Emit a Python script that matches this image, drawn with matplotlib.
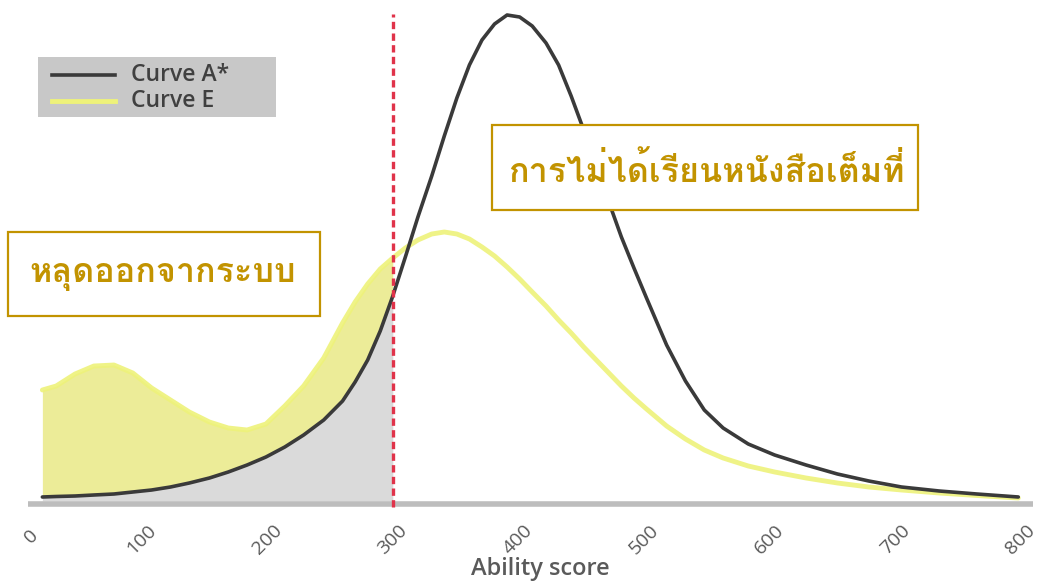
import matplotlib
matplotlib.use("Agg")
import matplotlib.pyplot as plt
from matplotlib import font_manager
from matplotlib.patches import Rectangle
from matplotlib.lines import Line2D
from matplotlib.transforms import ScaledTranslation

# ---------------- data ----------------
score = [21, 32, 47, 62, 78, 93, 108, 123, 138, 154, 169, 184, 199, 214, 229, 245,
         260, 270, 280, 290, 300, 310, 320, 331, 341, 351, 361, 371, 381, 391, 401,
         411, 422, 432, 442, 452, 462, 472, 482, 492, 502, 518, 533, 548, 563, 583,
         604, 629, 654, 679, 705, 735, 765, 798]
curve_a = [1, 1.5, 2, 3, 4, 6, 8, 11, 15, 20, 26, 33, 41, 51, 63, 78,
           97, 116, 138, 167, 202, 241, 281, 322, 362, 400, 433, 458, 474, 483, 481,
           472, 455, 433, 402, 368, 333, 296, 261, 230, 200, 153, 117, 88, 70, 54,
           43, 33, 24, 17, 11, 7, 4, 1]
curve_e = [108, 112, 124, 132, 133, 125, 110, 98, 86, 76, 70, 68, 74, 92, 112, 140,
           175, 196, 214, 229, 240, 250, 258, 264, 266, 264, 259, 251, 242, 231, 219,
           206, 192, 178, 165, 151, 138, 125, 112, 100, 89, 72, 59, 48, 40, 32,
           26, 20, 15, 11, 8, 5, 2.5, 0]
cutoff = 300
tick_values = [0, 100, 200, 300, 400, 500, 600, 700, 800]
series_names = ["Curve A*", "Curve E"]
label_dropout = "หลุดออกจากระบบ"
label_notfull = "การไม่ได้เรียนหนังสือเต็มที่"
x_title = "Ability score"

# ---------------- fonts ----------------
names = {f.name for f in font_manager.fontManager.ttflist}
thai_family = [n for n in ("Loma", "Noto Sans Thai") if n in names] + ["DejaVu Sans"]

W, H = 1041, 581
fig = plt.figure(figsize=(W / 100, H / 100), dpi=100)
ax = fig.add_axes([0, 71 / H, 1, 510 / H])
x0px, kpx = 16.0, 1.256
ax.set_xlim(-x0px / kpx, (W - x0px) / kpx)
ax.set_ylim(-12, 498)
for s in ax.spines.values():
    s.set_visible(False)
ax.set_yticks([])

# fills left of the cut-off
left_x = [x for x in score if x <= cutoff]
n = len(left_x)
ax.fill_between(left_x, -3, curve_a[:n], color="#dadada", lw=0, zorder=1)
ax.fill_between(left_x, curve_a[:n], curve_e[:n], color="#ecec98", lw=0, zorder=1)

# baseline
ax.plot([(28 - x0px) / kpx, (1033 - x0px) / kpx], [-6, -6], color="#bdbdbd",
        lw=4, solid_capstyle="butt", zorder=2)

# curves
ax.plot(score, curve_e, color="#eef27a", lw=3.5, alpha=0.9, zorder=3,
        solid_capstyle="round", solid_joinstyle="round")
ax.plot(score, curve_a, color="#3a3a3a", lw=2.6, zorder=4, solid_capstyle="round",
        solid_joinstyle="round")

# cut-off line
ax.plot([cutoff, cutoff], [-9, 484], color="#e0334a", lw=2.4,
        dashes=(2.2, 1.3), zorder=5)

# ticks
ax.set_xticks(tick_values)
ax.set_xticklabels([str(v) for v in tick_values], rotation=45, ha="center",
                   va="top", fontsize=14, color="#5a5a5a", family="Open Sans")
ax.tick_params(axis="x", length=0, pad=8)
first = ax.get_xticklabels()[0]
first.set_transform(first.get_transform() + ScaledTranslation(15 / 100, -5 / 100,
                                                              fig.dpi_scale_trans))
ax.set_xlabel(x_title, fontsize=17, color="#5a5a5a", family="Open Sans",
              fontweight="semibold")
ax.xaxis.set_label_coords(540 / W, (510 - 557) / 510)

# legend (drawn in figure pixels)
def fx(px):
    return px / W

def fy(py):
    return 1 - py / H

fig.patches.append(Rectangle((fx(38), fy(117)), fx(276) - fx(38), fy(57) - fy(117),
                             transform=fig.transFigure, facecolor="#c8c8c8",
                             edgecolor="none", zorder=10))
fig.lines.append(Line2D([fx(52), fx(115)], [fy(75), fy(75)], transform=fig.transFigure,
                        color="#3a3a3a", lw=2.6, zorder=11))
fig.lines.append(Line2D([fx(52), fx(115)], [fy(101), fy(101)], transform=fig.transFigure,
                        color="#eef27a", lw=3.5, zorder=11))
fig.text(fx(131), fy(75), series_names[0], fontsize=16.5, color="#404040",
         family="Open Sans", fontweight="semibold", va="center", ha="left", zorder=12)
fig.text(fx(131), fy(101), series_names[1], fontsize=16.5, color="#404040",
         family="Open Sans", fontweight="semibold", va="center", ha="left", zorder=12)

# annotation boxes
gold = "#c29300"
def box(l, t, r, b):
    fig.patches.append(Rectangle((fx(l), fy(b)), fx(r) - fx(l), fy(t) - fy(b),
                                 transform=fig.transFigure, facecolor="white",
                                 edgecolor=gold, lw=1.6, zorder=20))

box(492, 125, 918, 210)
fig.text(fx(706), fy(170), label_notfull, fontsize=24.5, color=gold, family=thai_family,
         fontweight="bold", ha="center", va="center", zorder=21)
box(8, 232, 320, 316)
fig.text(fx(163), fy(276), label_dropout, fontsize=24.5, color=gold, family=thai_family,
         fontweight="bold", ha="center", va="center", zorder=21)

fig.savefig("out.png", dpi=100)
